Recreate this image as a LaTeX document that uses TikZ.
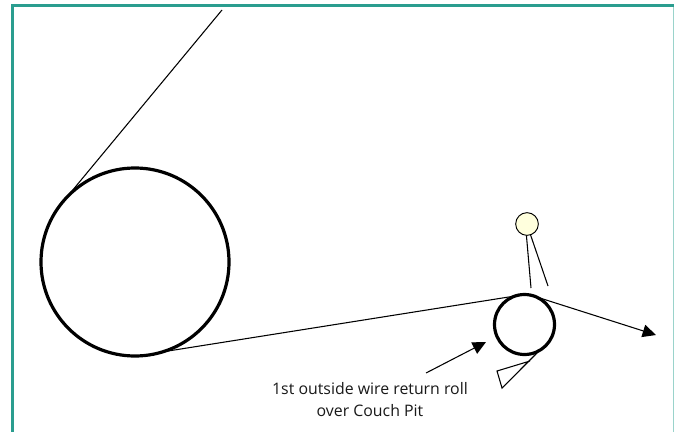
\documentclass[tikz,border=0pt]{standalone}
\usepackage{fontspec}
\setmainfont{Open Sans}
\usetikzlibrary{arrows.meta}
\definecolor{frameteal}{HTML}{2A9D8F}
\definecolor{frametealb}{HTML}{9AD3CB}
\definecolor{rollyellow}{HTML}{FFFFDD}
\tikzset{
  px/.style={x=0.75pt,y=-0.75pt},
  roll/.style={circle,draw=black,line width=2.4pt,inner sep=0pt,outer sep=0pt},
  guide/.style={circle,draw=black,fill=rollyellow,line width=0.7pt,inner sep=0pt,outer sep=0pt},
  wire/.style={draw=black,line width=0.8pt},
  wirearrow/.style={wire,-{Triangle[length=10pt,width=9.5pt]}},
  caption/.style={font=\fontsize{11.9pt}{16.5pt}\selectfont,align=center,text=black!90,inner sep=0pt}
}
\begin{document}
\begin{tikzpicture}[px]
\useasboundingbox (0,0) rectangle (674,432);
\fill[white] (0,0) rectangle (674,432);
\fill[frameteal] (11,4) rectangle (674,7);
\fill[frameteal] (11,4) rectangle (14,432);
\fill[frametealb] (673,7) rectangle (674,432);
\node[roll,minimum size=141pt] (big) at (135,262) {};
\node[roll,minimum size=45pt] (small) at (524.5,324.5) {};
\node[guide,minimum size=17pt] (guide) at (527,224) {};
\coordinate (top) at (222,10);
\coordinate (out) at (656,335);
\coordinate (lead) at (426,373);
\coordinate (pt) at (486,342);
\coordinate (g1) at (531,288);
\coordinate (g2) at (548,286);
\coordinate (d1) at (530,361);
\coordinate (d2) at (497,371);
\coordinate (d3) at (502,388);
\draw[wire] (top) -- (big.137);
\draw[wire] (big.-73) -- (small.108);
\draw[wirearrow] (small.68) -- (out);
\draw[wirearrow] (lead) -- (pt);
\draw[wire] (guide.-93) -- (g1);
\draw[wire] (guide.-72) -- (g2);
\draw[wire,line join=miter] (small.-60) -- (d3) -- (d2) -- (d1);
\node[caption] (label) at (370,400) {1st outside wire return roll\\over Couch Pit};
\end{tikzpicture}
\end{document}
